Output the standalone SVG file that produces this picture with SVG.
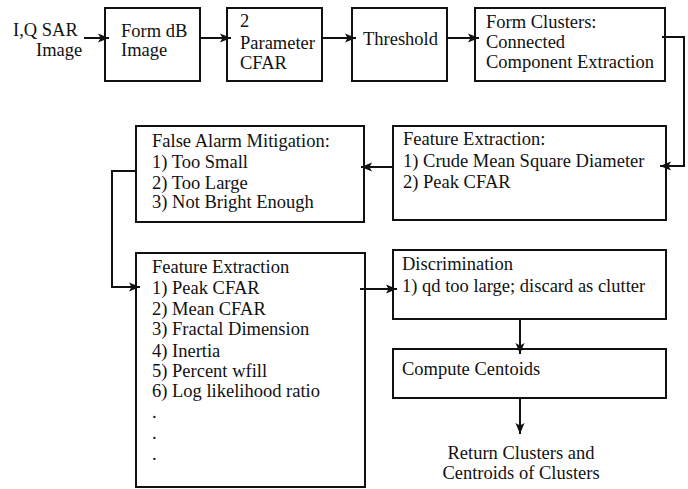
<svg xmlns="http://www.w3.org/2000/svg" width="688" height="489" viewBox="0 0 688 489">
<style>
.box{fill:#fff;stroke:#111;stroke-width:2}
.t{font-family:"Liberation Serif","Times New Roman",serif;font-size:18.5px;fill:#111}
.c{fill:none;stroke:#111;stroke-width:2}
</style>
<defs>
<marker id="ah" markerUnits="userSpaceOnUse" markerWidth="12" markerHeight="10" refX="11" refY="5" orient="auto">
<path d="M0,0.5 L11,5 L0,9.5 L2.5,5 Z" fill="#111"/>
</marker>
</defs>
<rect width="688" height="489" fill="#fff"/>
<g id="input">
<text class="t" x="13" y="36">I,Q SAR</text>
<text class="t" x="36" y="56">Image</text>
</g>
<g id="formdb">
<rect class="box" x="105" y="8" width="95" height="73"/>
<text class="t" x="121" y="37">Form dB</text>
<text class="t" x="121" y="56">Image</text>
</g>
<g id="cfar">
<rect class="box" x="227" y="8" width="95" height="73"/>
<text class="t" x="240" y="27">2</text>
<text class="t" x="240" y="49">Parameter</text>
<text class="t" x="240" y="69">CFAR</text>
</g>
<g id="threshold">
<rect class="box" x="352" y="8" width="95" height="73"/>
<text class="t" x="363" y="45">Threshold</text>
</g>
<g id="clusters">
<rect class="box" x="475" y="8" width="190" height="73"/>
<text class="t" x="486" y="28">Form Clusters:</text>
<text class="t" x="486" y="48">Connected</text>
<text class="t" x="486" y="68">Component Extraction</text>
</g>
<g id="fe1">
<rect class="box" x="393" y="126" width="273" height="94"/>
<text class="t" x="403" y="145">Feature Extraction:</text>
<text class="t" x="403" y="167">1) Crude Mean Square Diameter</text>
<text class="t" x="403" y="188">2) Peak CFAR</text>
</g>
<g id="fam">
<rect class="box" x="136" y="126" width="228" height="96"/>
<text class="t" x="152" y="147">False Alarm Mitigation:</text>
<text class="t" x="152" y="168">1) Too Small</text>
<text class="t" x="152" y="189">2) Too Large</text>
<text class="t" x="152" y="208">3) Not Bright Enough</text>
</g>
<g id="fe2">
<rect class="box" x="136" y="253" width="229" height="234"/>
<text class="t" x="152" y="273">Feature Extraction</text>
<text class="t" x="152" y="294">1) Peak CFAR</text>
<text class="t" x="152" y="315">2) Mean CFAR</text>
<text class="t" x="152" y="335">3) Fractal Dimension</text>
<text class="t" x="152" y="357">4) Inertia</text>
<text class="t" x="152" y="377">5) Percent wfill</text>
<text class="t" x="152" y="397">6) Log likelihood ratio</text>
<text class="t" x="152" y="418">.</text>
<text class="t" x="152" y="439">.</text>
<text class="t" x="152" y="460">.</text>
</g>
<g id="disc">
<rect class="box" x="393" y="250" width="273" height="69"/>
<text class="t" x="402" y="270">Discrimination</text>
<text class="t" x="402" y="292">1) qd too large; discard as clutter</text>
</g>
<g id="centroids">
<rect class="box" x="393" y="349" width="273" height="49"/>
<text class="t" x="402" y="375">Compute Centoids</text>
</g>
<g id="output">
<text class="t" x="521" y="459" text-anchor="middle">Return Clusters and</text>
<text class="t" x="521" y="479" text-anchor="middle">Centroids of Clusters</text>
</g>
<g id="connectors">
<path class="c" d="M84,38 H109" marker-end="url(#ah)"/>
<path class="c" d="M200,38 H231" marker-end="url(#ah)"/>
<path class="c" d="M322,38 H356" marker-end="url(#ah)"/>
<path class="c" d="M447,38 H479" marker-end="url(#ah)"/>
<path class="c" d="M662,37 H684 V166 H660" marker-end="url(#ah)"/>
<path class="c" d="M393,167 H361" marker-end="url(#ah)"/>
<path class="c" d="M136,171 H112 V287 H140" marker-end="url(#ah)"/>
<path class="c" d="M360,289 H397" marker-end="url(#ah)"/>
<path class="c" d="M520,319 V354" marker-end="url(#ah)"/>
<path class="c" d="M520,398 V434" marker-end="url(#ah)"/>
</g>
</svg>
